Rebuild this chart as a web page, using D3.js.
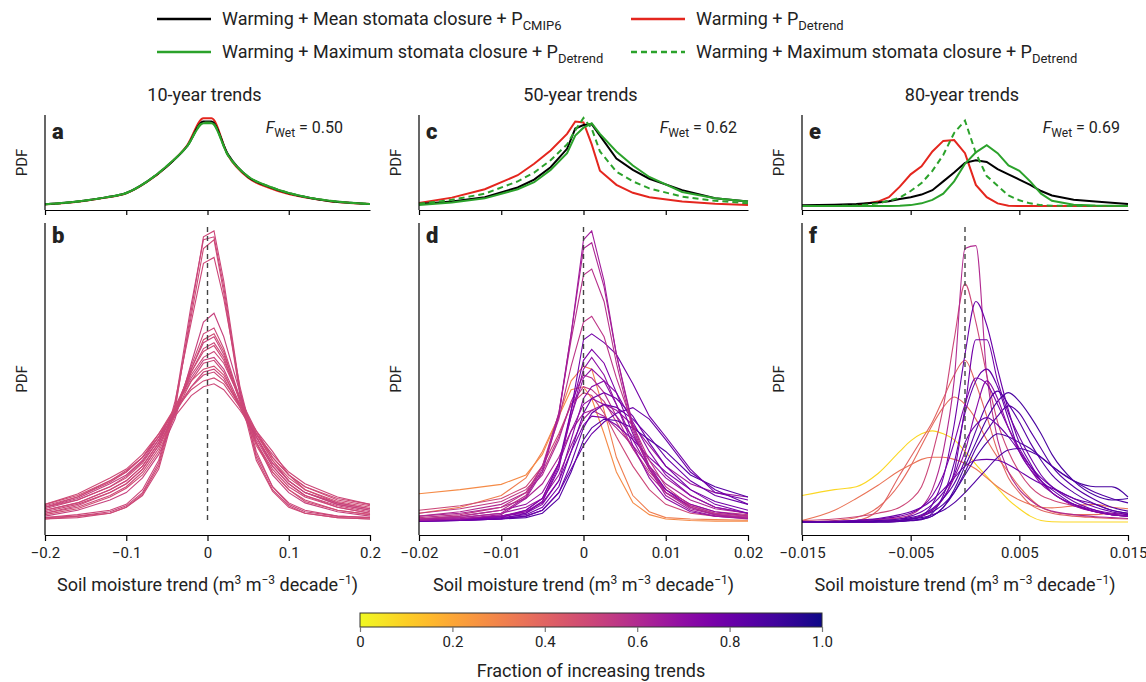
<!DOCTYPE html>
<html>
<head>
<meta charset="utf-8">
<script src="https://cdn.jsdelivr.net/npm/d3@7"></script>
<style>
  body { margin: 0; background: #fff; }
  svg text { font-family: Roboto, "Noto Sans", sans-serif; fill: #222; }
</style>
</head>
<body>
<div id="chart"></div>
<script>
// ---- data ----
const colTitles = ['10-year trends', '50-year trends', '80-year trends']
const fWet = ['0.50', '0.62', '0.69']

const ticks10 = [-0.2, -0.1, 0, 0.1, 0.2]
const ticks50 = [-0.02, -0.01, 0, 0.01, 0.02]
const ticks80 = [-0.015, -0.005, 0.005, 0.015]
const tickLabels10 = ['\u22120.2', '\u22120.1', '0', '0.1', '0.2']
const tickLabels50 = ['\u22120.02', '\u22120.01', '0', '0.01', '0.02']
const tickLabels80 = ['\u22120.015', '\u22120.005', '0.005', '0.015']

const legendLabels = [
  { key: 'black', text: 'Warming + Mean stomata closure + P', sub: 'CMIP6' },
  { key: 'red', text: 'Warming + P', sub: 'Detrend' },
  { key: 'green', text: 'Warming + Maximum stomata closure + P', sub: 'Detrend' },
  { key: 'greenDash', text: 'Warming + Maximum stomata closure + P', sub: 'Detrend' }
]

// top panels (a, c, e): PDF in arbitrary units
const aX = [-0.2, -0.175, -0.15, -0.125, -0.1, -0.075, -0.05, -0.025, -0.005, 0.005, 0.025, 0.05, 0.075, 0.1, 0.125, 0.15, 0.175, 0.2]
const aRed = [1.9, 3.5, 6, 9.5, 14.4, 27, 45, 69, 99.6, 99.6, 58, 32, 21, 13.5, 9, 5.5, 3.5, 2.2]
const aBlack = [2, 3.6, 6.2, 9.8, 14.8, 27.5, 45, 68, 96, 96, 59, 33, 22, 14.4, 9.3, 5.8, 3.7, 2.3]
const aGreen = [2, 3.6, 6.2, 9.8, 14.8, 27.5, 45.5, 68, 94, 94, 58, 33.5, 22.5, 14.8, 9.5, 6, 3.8, 2.4]
const aGreenDash = [2, 3.6, 6.2, 9.8, 14.8, 27.5, 45.5, 68, 95, 95, 58, 33.5, 22.5, 14.8, 9.5, 6, 3.8, 2.4]

const cX = [-0.02, -0.016, -0.012, -0.008, -0.006, -0.004, -0.002, -0.001, 0, 0.001, 0.002, 0.004, 0.006, 0.008, 0.012, 0.016, 0.02]
const cRed = [3.5, 9.5, 19, 35, 48, 63, 82, 96, 95, 70, 40, 24, 15, 10, 5, 2.5, 1]
const cBlack = [2.3, 5, 10, 21, 30, 44, 65, 88, 92, 93, 80, 54, 41, 31, 18, 8.7, 5]
const cGreen = [1, 4, 8.7, 19, 27, 41, 60, 80, 89, 94, 82, 62, 46, 33, 16, 8.7, 5]
const cGreenDash = [2.5, 7, 14, 28, 38, 52, 70, 86, 100, 88, 62, 39, 28, 20, 10.6, 6, 3]

const eX = [-0.015, -0.012, -0.01, -0.008, -0.007, -0.006, -0.005, -0.004, -0.003, -0.002, -0.001, 0, 0.001, 0.002, 0.003, 0.004, 0.005, 0.006, 0.007, 0.008, 0.01, 0.012, 0.015]
const eRed = [0, 0, 0.8, 5, 10, 22, 36, 45, 62, 74, 75, 60, 24, 10, 3, 0.3, 0, 0, 0, 0, 0, 0, 0]
const eBlack = [0.8, 1.5, 2.3, 4, 5.5, 8, 10, 13, 18, 28, 38, 49, 52, 50, 42, 36, 30, 24, 17, 12, 7, 5, 2.3]
const eGreen = [0, 0, 0, 0, 0, 0.3, 1, 3, 7, 14, 28, 48, 61, 69, 60, 46, 40, 28, 14, 6, 1.5, 0.5, 0]
const eGreenDash = [0, 0, 0.5, 3, 6, 9.5, 17, 26, 40, 58, 83, 97, 60, 34, 23, 12, 6.5, 3, 1, 0.3, 0, 0, 0]

// bottom panels (b, d, f): one curve per model, coloured by fraction of increasing trends
const bX = [-0.2, -0.16, -0.12, -0.1, -0.08, -0.06, -0.04, -0.02, -0.005, 0.008, 0.02, 0.04, 0.06, 0.08, 0.1, 0.12, 0.16, 0.2]
const bFrac = [0.5, 0.51, 0.49, 0.5, 0.52, 0.5, 0.48, 0.51, 0.5, 0.49, 0.5, 0.52, 0.5, 0.48, 0.51, 0.5, 0.49, 0.5]
const bCurves = [
  [1, 1.5, 3, 5, 9, 18, 38, 72, 97, 99, 82, 45, 22, 11, 5.5, 3, 1.5, 1],
  [1.5, 2, 3.5, 5.5, 10, 20, 40, 74, 96, 97, 80, 44, 23, 12, 6, 3.5, 2, 1.5],
  [1, 2, 3, 5, 9.5, 19, 39, 70, 93, 96, 78, 43, 21, 10.5, 5, 3, 1.5, 1],
  [1.5, 2.5, 4, 6, 11, 21, 41, 68, 88, 90, 76, 46, 24, 12, 6.5, 4, 2, 1.5],
  [2, 4, 7.5, 10, 15, 23, 35, 54, 68, 71, 63, 44, 27, 16, 10, 6.5, 3.5, 2],
  [3, 5, 9, 12, 17, 25, 37, 53, 64, 66, 59, 42, 27, 17, 11, 7.5, 4, 2.5],
  [2.5, 4.5, 8.5, 11.5, 16, 24, 36, 52, 62, 64, 58, 41, 26, 17, 11, 7, 4, 2.5],
  [4, 6.5, 11, 14, 19, 27, 38, 52, 61, 63, 57, 42, 29, 19, 13, 9, 5, 3],
  [3.5, 6, 10, 13, 18, 26, 37, 51, 59, 61, 56, 41, 28, 19, 13, 9, 5.5, 3.5],
  [5, 7.5, 12, 15, 20, 28, 39, 51, 58, 60, 55, 42, 30, 21, 14, 10, 6, 4],
  [4, 6.5, 11, 14, 19, 27, 38, 50, 56, 58, 54, 42, 31, 24, 16, 11, 6.5, 4.5],
  [5, 8, 13, 16, 21, 29, 39, 49, 55, 56, 52, 40, 29, 20, 14, 10, 6, 4],
  [3, 5.5, 10, 13, 18, 26, 37, 48, 54, 55, 51, 39, 27, 18, 12, 8.5, 5, 3],
  [6, 9, 14, 17, 22, 30, 39, 48, 52, 53, 50, 40, 30, 21, 15, 11, 7, 5],
  [4.5, 7.5, 12, 15.5, 20.5, 28, 37, 46, 51, 52, 49, 39, 29, 20, 14, 10, 6.5, 4.5],
  [5.5, 8.5, 13.5, 17, 22, 29, 38, 46, 50, 51, 48, 40, 31, 22, 16, 12, 7.5, 5.5],
  [6, 9.5, 15, 18, 23, 30, 38, 45, 48, 49, 47, 39, 30, 22, 16, 12, 8, 6],
  [5, 8.5, 14, 17.5, 22, 29, 36, 43, 46, 47, 45, 38, 30, 23, 17, 13, 8.5, 6]
]

const dX = [-0.02, -0.015, -0.01, -0.007, -0.005, -0.003, -0.0015, 0, 0.001, 0.0025, 0.004, 0.006, 0.008, 0.01, 0.013, 0.016, 0.02]
const dFrac = [0.32, 0.28, 0.5, 0.55, 0.62, 0.6, 0.66, 0.7, 0.72, 0.68, 0.75, 0.78, 0.8, 0.85, 0.8, 0.75, 0.78, 0.7, 0.56, 0.58, 0.62, 0.65]
const dCurves = [
  [3, 5, 9, 15, 24, 36, 48, 53, 52, 38, 22, 9, 3.5, 1.5, 1, 0.8, 0.6],
  [9.6, 11, 12.8, 16, 23, 36, 45, 46, 42, 30, 17, 6.6, 2.5, 1, 0.5, 0.3, 0.3],
  [4, 5.5, 8, 12, 19, 30, 40, 44, 43, 37, 29, 19, 11, 6, 3, 2, 1.5],
  [3, 4.5, 7, 11, 17, 29, 40, 46, 45, 41, 34, 25, 17, 11, 6, 3.5, 2.5],
  [2, 3, 5, 8, 13, 22, 31, 37, 38, 36, 32, 26, 19, 13, 7.5, 4.5, 3],
  [2, 3.5, 6, 10, 16, 28, 41, 50, 49, 44, 36, 25, 16, 10, 5.5, 3, 2],
  [1, 1.5, 3, 5, 8, 16, 26, 35, 38, 40, 38, 33, 26, 19, 13, 10, 8.5],
  [0.5, 1, 2, 4, 8, 20, 36, 49, 52, 48, 40, 28, 18, 11, 6, 3.5, 2],
  [0.5, 1, 2, 3, 6, 14, 28, 42, 46, 48, 44, 34, 24, 16, 9, 5, 3],
  [1, 2, 4, 6, 10, 20, 31, 40, 42, 40, 36, 29, 21, 15, 9, 5, 3],
  [0.5, 1, 2, 3.5, 6.5, 14, 24, 33, 36, 35.5, 33, 28, 22, 17, 11, 6, 3],
  [0.5, 0.8, 1.5, 2.5, 5, 12, 24, 37, 42, 44, 42, 36, 27, 19, 11, 7, 4],
  [0.3, 0.6, 1.2, 2, 4, 10, 20, 32, 37, 40, 39, 35, 29, 22, 14, 9, 6],
  [0.3, 0.5, 1, 1.5, 3, 8, 17, 28, 32, 35, 34.5, 32, 28, 24, 16, 12, 8.5],
  [0.3, 0.5, 1, 2, 4, 10, 18, 26, 30, 34, 37, 38.9, 35, 28, 17, 11, 6],
  [0.4, 0.8, 1.5, 4, 8, 20, 38, 55, 58.7, 54, 44, 30, 19, 11, 5, 2.5, 1.5],
  [0.3, 0.5, 1, 3, 7, 18, 38, 62, 64, 61, 57, 47, 36, 29, 18, 10, 7.5],
  [0.5, 1, 2, 3.5, 7, 19, 36, 52, 56, 50, 40, 26, 15, 8, 3.5, 2, 1.2],
  [1.5, 2.5, 5, 10, 19, 35, 53, 68, 70, 63, 49, 33, 21, 12, 5.5, 3, 2],
  [1, 2, 4, 9, 19, 37, 62, 84, 86, 75, 54, 31, 18, 10, 5, 2.5, 1.5],
  [0.8, 1.5, 3, 8.5, 18, 37, 64, 93, 95, 80, 57, 33, 19, 10, 4.5, 2.5, 1.2],
  [0.5, 1, 2.5, 8, 17, 36, 64, 96, 99, 82, 57, 32, 18, 9, 4, 2, 1]
]

const fX = [-0.015, -0.012, -0.01, -0.008, -0.006, -0.005, -0.004, -0.003, -0.002, -0.001, 0, 0.001, 0.002, 0.003, 0.004, 0.005, 0.006, 0.007, 0.008, 0.01, 0.012, 0.0135, 0.015]
const fFrac = [0.08, 0.35, 0.38, 0.4, 0.5, 0.6, 0.8, 0.78, 0.82, 0.76, 0.88, 0.85, 0.8, 0.88, 0.8, 0.72, 0.85, 0.86]
const fCurves = [
  [9, 11, 12, 16.5, 24, 27.6, 30, 31, 30, 28, 24, 19.6, 15.5, 11.5, 7.5, 4.5, 2, 0.5, 0.1, 0, 0, 0, 0],
  [0.5, 4, 8, 12.5, 17.5, 19.5, 21.3, 22, 22, 21.3, 20, 18, 15, 12, 9.5, 7.5, 6, 5, 4.8, 5.5, 6, 5, 4.5],
  [0, 0.5, 1.5, 5, 13, 19, 26, 33, 39, 42.5, 40, 35, 28, 22, 17, 12, 8, 5, 3.5, 2.5, 2.5, 3, 3],
  [0, 0, 0.5, 4, 16, 22, 28, 34, 42, 50, 55, 47, 36, 24, 15, 10, 6, 4, 3, 2, 1.5, 1.2, 1],
  [0.5, 1, 1.8, 3, 5, 7.5, 12, 23, 39, 62, 81, 68, 50, 34, 24, 17, 12, 9, 7.5, 5.5, 3.5, 2.5, 2],
  [0, 0, 0.3, 0.8, 1.5, 2.5, 5, 11, 24, 48, 93, 94, 50, 28, 17, 11, 7.5, 5, 3.7, 2.5, 1.8, 1.5, 1.2],
  [0, 0, 0, 0.2, 0.5, 1, 2, 6, 15, 33, 57, 75, 67, 52, 38, 27, 20, 14, 10, 6, 3.5, 2.5, 2],
  [0, 0, 0, 0.2, 0.5, 1, 2, 4, 8, 17, 39, 62, 62, 48, 37, 29, 22, 16, 12, 7, 4, 2.5, 2],
  [0, 0, 0, 0, 0.3, 0.6, 1, 3, 9, 20, 37, 48, 52, 46, 35, 24, 18, 14, 11, 6, 3.5, 2.5, 2],
  [0, 0.2, 0.5, 1, 2, 3, 5, 9, 16, 27, 40, 49, 47, 40, 32, 25, 19, 14, 10, 6, 4, 3, 2.5],
  [0, 0, 0, 0, 0.2, 0.5, 1, 2, 5, 11, 19, 27, 35, 41, 44, 41, 36, 30, 23, 14, 9, 7.5, 8],
  [0, 0, 0, 0, 0.2, 0.4, 0.8, 2, 5, 10, 17, 25, 31, 36, 39.5, 37, 31, 25, 19, 12, 7.5, 5, 3.7],
  [0, 0, 0.2, 0.5, 1, 2, 3.5, 6, 10, 16, 27, 33, 35.5, 33, 29, 24, 19, 15, 12, 8, 5, 3.5, 2.5],
  [0, 0, 0, 0.2, 0.5, 1, 2, 3.5, 6, 10, 16, 22, 27, 30, 29, 27, 25, 22, 19, 14, 12, 12, 8.5],
  [0, 0.3, 0.6, 1.2, 2.5, 3.5, 5, 7.5, 11, 15, 19, 21, 21.3, 21, 19.5, 17.3, 15, 13, 11.5, 8, 6, 4, 3],
  [0, 0, 0, 0.2, 0.5, 1, 2, 4, 8, 15, 24, 38, 48, 42, 32, 24, 18, 13, 10, 5.5, 3.5, 2.5, 2],
  [0, 0, 0.2, 0.5, 1, 1.5, 2.5, 4.5, 8, 13, 21, 31, 40, 44.5, 40, 34, 27, 21, 16, 10, 6, 4, 3],
  [0, 0, 0, 0.2, 0.5, 1, 1.5, 2.5, 4, 6.5, 10, 14, 18, 22, 24.5, 25, 24, 22, 19, 14, 10, 8, 6.5]
]

const cbTicks = [0, 0.2, 0.4, 0.6, 0.8, 1.0]
const cbLabels = ['0', '0.2', '0.4', '0.6', '0.8', '1.0']

// ---- layout / style ----
const width = 1146
const height = 682
const colRange = [[45, 370], [419, 748], [802, 1128]]
const topBox = { y0: 115, y1: 210, range: [206, 118] }
const botBox = { y0: 223, y1: 535, range: [522, 228] }
const seriesStyle = {
  red: { color: '#e4261e', dash: null },
  black: { color: '#000000', dash: null },
  greenDash: { color: '#2ba22b', dash: '6,4' },
  green: { color: '#2ba22b', dash: null }
}
const drawOrder = ['red', 'black', 'greenDash', 'green']
const fracColor = f => d3.interpolatePlasma(1 - f)

const columns = [
  {
    domain: [-0.2, 0.2], ticks: ticks10, labels: tickLabels10, letters: ['a', 'b'], fwetEnd: 343,
    topX: aX, top: { red: aRed, black: aBlack, green: aGreen, greenDash: aGreenDash }, topSmooth: true,
    botX: bX, bot: bCurves, frac: bFrac, smooth: false
  },
  {
    domain: [-0.02, 0.02], ticks: ticks50, labels: tickLabels50, letters: ['c', 'd'], fwetEnd: 737,
    topX: cX, top: { red: cRed, black: cBlack, green: cGreen, greenDash: cGreenDash }, topSmooth: false,
    botX: dX, bot: dCurves, frac: dFrac, smooth: false
  },
  {
    domain: [-0.015, 0.015], ticks: ticks80, labels: tickLabels80, letters: ['e', 'f'], fwetEnd: 1120,
    topX: eX, top: { red: eRed, black: eBlack, green: eGreen, greenDash: eGreenDash }, topSmooth: false,
    botX: fX, bot: fCurves, frac: fFrac, smooth: true
  }
]

const svg = d3
  .select('#chart')
  .append('svg')
  .attr('width', width)
  .attr('height', height)

const yTop = d3.scaleLinear().domain([0, 100]).range(topBox.range)
const yBot = d3.scaleLinear().domain([0, 100]).range(botBox.range)

columns.forEach(function(col, ci) {
  const x = d3.scaleLinear().domain(col.domain).range(colRange[ci])
  const g = svg.append('g')
  const left = colRange[ci][0]

  // column title
  g.append('text')
    .text(colTitles[ci])
    .attr('x', (colRange[ci][0] + colRange[ci][1]) / 2 - 3)
    .attr('y', 101)
    .attr('text-anchor', 'middle')
    .style('font-size', '18px')

  // --- top panel ---
  drawOrder.forEach(function(key) {
    const line = d3
      .line()
      .x((d, i) => x(col.topX[i]))
      .y(d => yTop(d))
      .curve(col.topSmooth ? d3.curveMonotoneX : d3.curveLinear)
    g.append('path')
      .attr('d', line(col.top[key]))
      .attr('fill', 'none')
      .attr('stroke', seriesStyle[key].color)
      .attr('stroke-width', 2)
      .attr('stroke-dasharray', seriesStyle[key].dash)
  })

  g.append('line')
    .attr('x1', left).attr('x2', left)
    .attr('y1', topBox.y0).attr('y2', topBox.y1)
    .attr('stroke', '#000').attr('stroke-width', 1.2)

  g.append('g')
    .attr('transform', 'translate(0,' + topBox.y1 + ')')
    .call(d3.axisBottom(x).tickValues(col.ticks.slice(0, -1)).tickSize(5).tickSizeOuter(0).tickFormat(''))
    .call(a => a.selectAll('path,line').attr('stroke', '#000').attr('stroke-width', 1.2))

  // --- bottom panel ---
  const botLine = d3
    .line()
    .x((d, i) => x(col.botX[i]))
    .y(d => yBot(d))
    .curve(col.smooth ? d3.curveMonotoneX : d3.curveLinear)

  g.append('g')
    .selectAll('path')
    .data(col.bot)
    .enter()
    .append('path')
    .attr('d', d => botLine(d))
    .attr('fill', 'none')
    .attr('stroke', (d, i) => fracColor(col.frac[i]))
    .attr('stroke-width', 1.1)

  // zero line
  g.append('line')
    .attr('x1', x(0)).attr('x2', x(0))
    .attr('y1', yBot(100) - 1).attr('y2', yBot(0))
    .attr('stroke', '#444')
    .attr('stroke-width', 1.4)
    .attr('stroke-dasharray', '5,4')

  g.append('line')
    .attr('x1', left).attr('x2', left)
    .attr('y1', botBox.y0).attr('y2', botBox.y1)
    .attr('stroke', '#000').attr('stroke-width', 1.2)

  g.append('g')
    .attr('transform', 'translate(0,' + botBox.y1 + ')')
    .call(
      d3.axisBottom(x)
        .tickValues(col.ticks)
        .tickSize(6)
        .tickSizeOuter(0)
        .tickPadding(6)
        .tickFormat((d, i) => col.labels[i])
    )
    .call(a => a.selectAll('path,line').attr('stroke', '#000').attr('stroke-width', 1.2))
    .call(a => a.selectAll('text').style('font-size', '15px').attr('fill', '#222').style('font-family', 'Roboto, sans-serif'))

  // axis title with superscripts
  const t = g.append('text')
    .attr('x', (colRange[ci][0] + colRange[ci][1]) / 2)
    .attr('y', 591)
    .attr('text-anchor', 'middle')
    .style('font-size', '18px')
  t.append('tspan').text('Soil moisture trend (m')
  t.append('tspan').text('3').attr('dy', -7).style('font-size', '12px')
  t.append('tspan').text(' m').attr('dy', 7)
  t.append('tspan').text('\u22123').attr('dy', -7).style('font-size', '12px')
  t.append('tspan').text(' decade').attr('dy', 7)
  t.append('tspan').text('\u22121').attr('dy', -7).style('font-size', '12px')
  t.append('tspan').text(')').attr('dy', 7)

  // PDF labels
  ;[(topBox.y0 + topBox.y1) / 2, (botBox.y0 + botBox.y1) / 2].forEach(function(yc) {
    g.append('text')
      .text('PDF')
      .attr('transform', 'translate(' + (left - 18) + ',' + yc + ') rotate(-90)')
      .attr('text-anchor', 'middle')
      .style('font-size', '15px')
  })

  // panel letters
  g.append('text').text(col.letters[0])
    .attr('x', left + 7).attr('y', 139)
    .style('font-size', '22px').style('font-weight', 900).attr('fill', '#000')
  g.append('text').text(col.letters[1])
    .attr('x', left + 7).attr('y', 243)
    .style('font-size', '22px').style('font-weight', 900).attr('fill', '#000')

  // F_Wet
  const fw = g.append('text')
    .attr('x', col.fwetEnd)
    .attr('y', 133)
    .attr('text-anchor', 'end')
    .style('font-size', '16px')
  fw.append('tspan').text('F').style('font-style', 'italic')
  fw.append('tspan').text('Wet').attr('dy', 4).style('font-size', '12px')
  fw.append('tspan').text(' = ' + fWet[ci]).attr('dy', -4)
})

// ---- legend ----
const legendPos = [[157, 19], [631, 19], [157, 52], [631, 52]]
legendLabels.forEach(function(item, i) {
  const [lx, ly] = legendPos[i]
  const st = seriesStyle[item.key]
  svg.append('line')
    .attr('x1', lx).attr('x2', lx + 54)
    .attr('y1', ly).attr('y2', ly)
    .attr('stroke', st.color)
    .attr('stroke-width', 2.5)
    .attr('stroke-dasharray', st.dash)
  const tx = svg.append('text')
    .attr('x', lx + 65)
    .attr('y', ly + 6)
    .style('font-size', '18px')
  tx.append('tspan').text(item.text)
  tx.append('tspan').text(item.sub).attr('dy', 5).style('font-size', '13px')
})

// ---- colorbar ----
const cbX = d3.scaleLinear().domain([0, 1]).range([360, 822])
const grad = svg.append('defs').append('linearGradient').attr('id', 'cbgrad')
d3.range(0, 1.0001, 0.05).forEach(function(t) {
  grad.append('stop').attr('offset', t).attr('stop-color', fracColor(t))
})
svg.append('rect')
  .attr('x', cbX(0)).attr('y', 613)
  .attr('width', cbX(1) - cbX(0)).attr('height', 14)
  .attr('fill', 'url(#cbgrad)')
  .attr('stroke', '#333').attr('stroke-width', 1)

svg.append('g')
  .attr('transform', 'translate(0,627)')
  .call(d3.axisBottom(cbX).tickValues(cbTicks).tickSize(5).tickPadding(4).tickFormat((d, i) => cbLabels[i]))
  .call(a => a.select('.domain').remove())
  .call(a => a.selectAll('line').attr('stroke', '#777').attr('stroke-width', 1.2))
  .call(a => a.selectAll('text').style('font-size', '15px').attr('fill', '#222').style('font-family', 'Roboto, sans-serif'))

svg.append('text')
  .text('Fraction of increasing trends')
  .attr('x', (cbX(0) + cbX(1)) / 2)
  .attr('y', 677)
  .attr('text-anchor', 'middle')
  .style('font-size', '18px')
</script>
</body>
</html>
